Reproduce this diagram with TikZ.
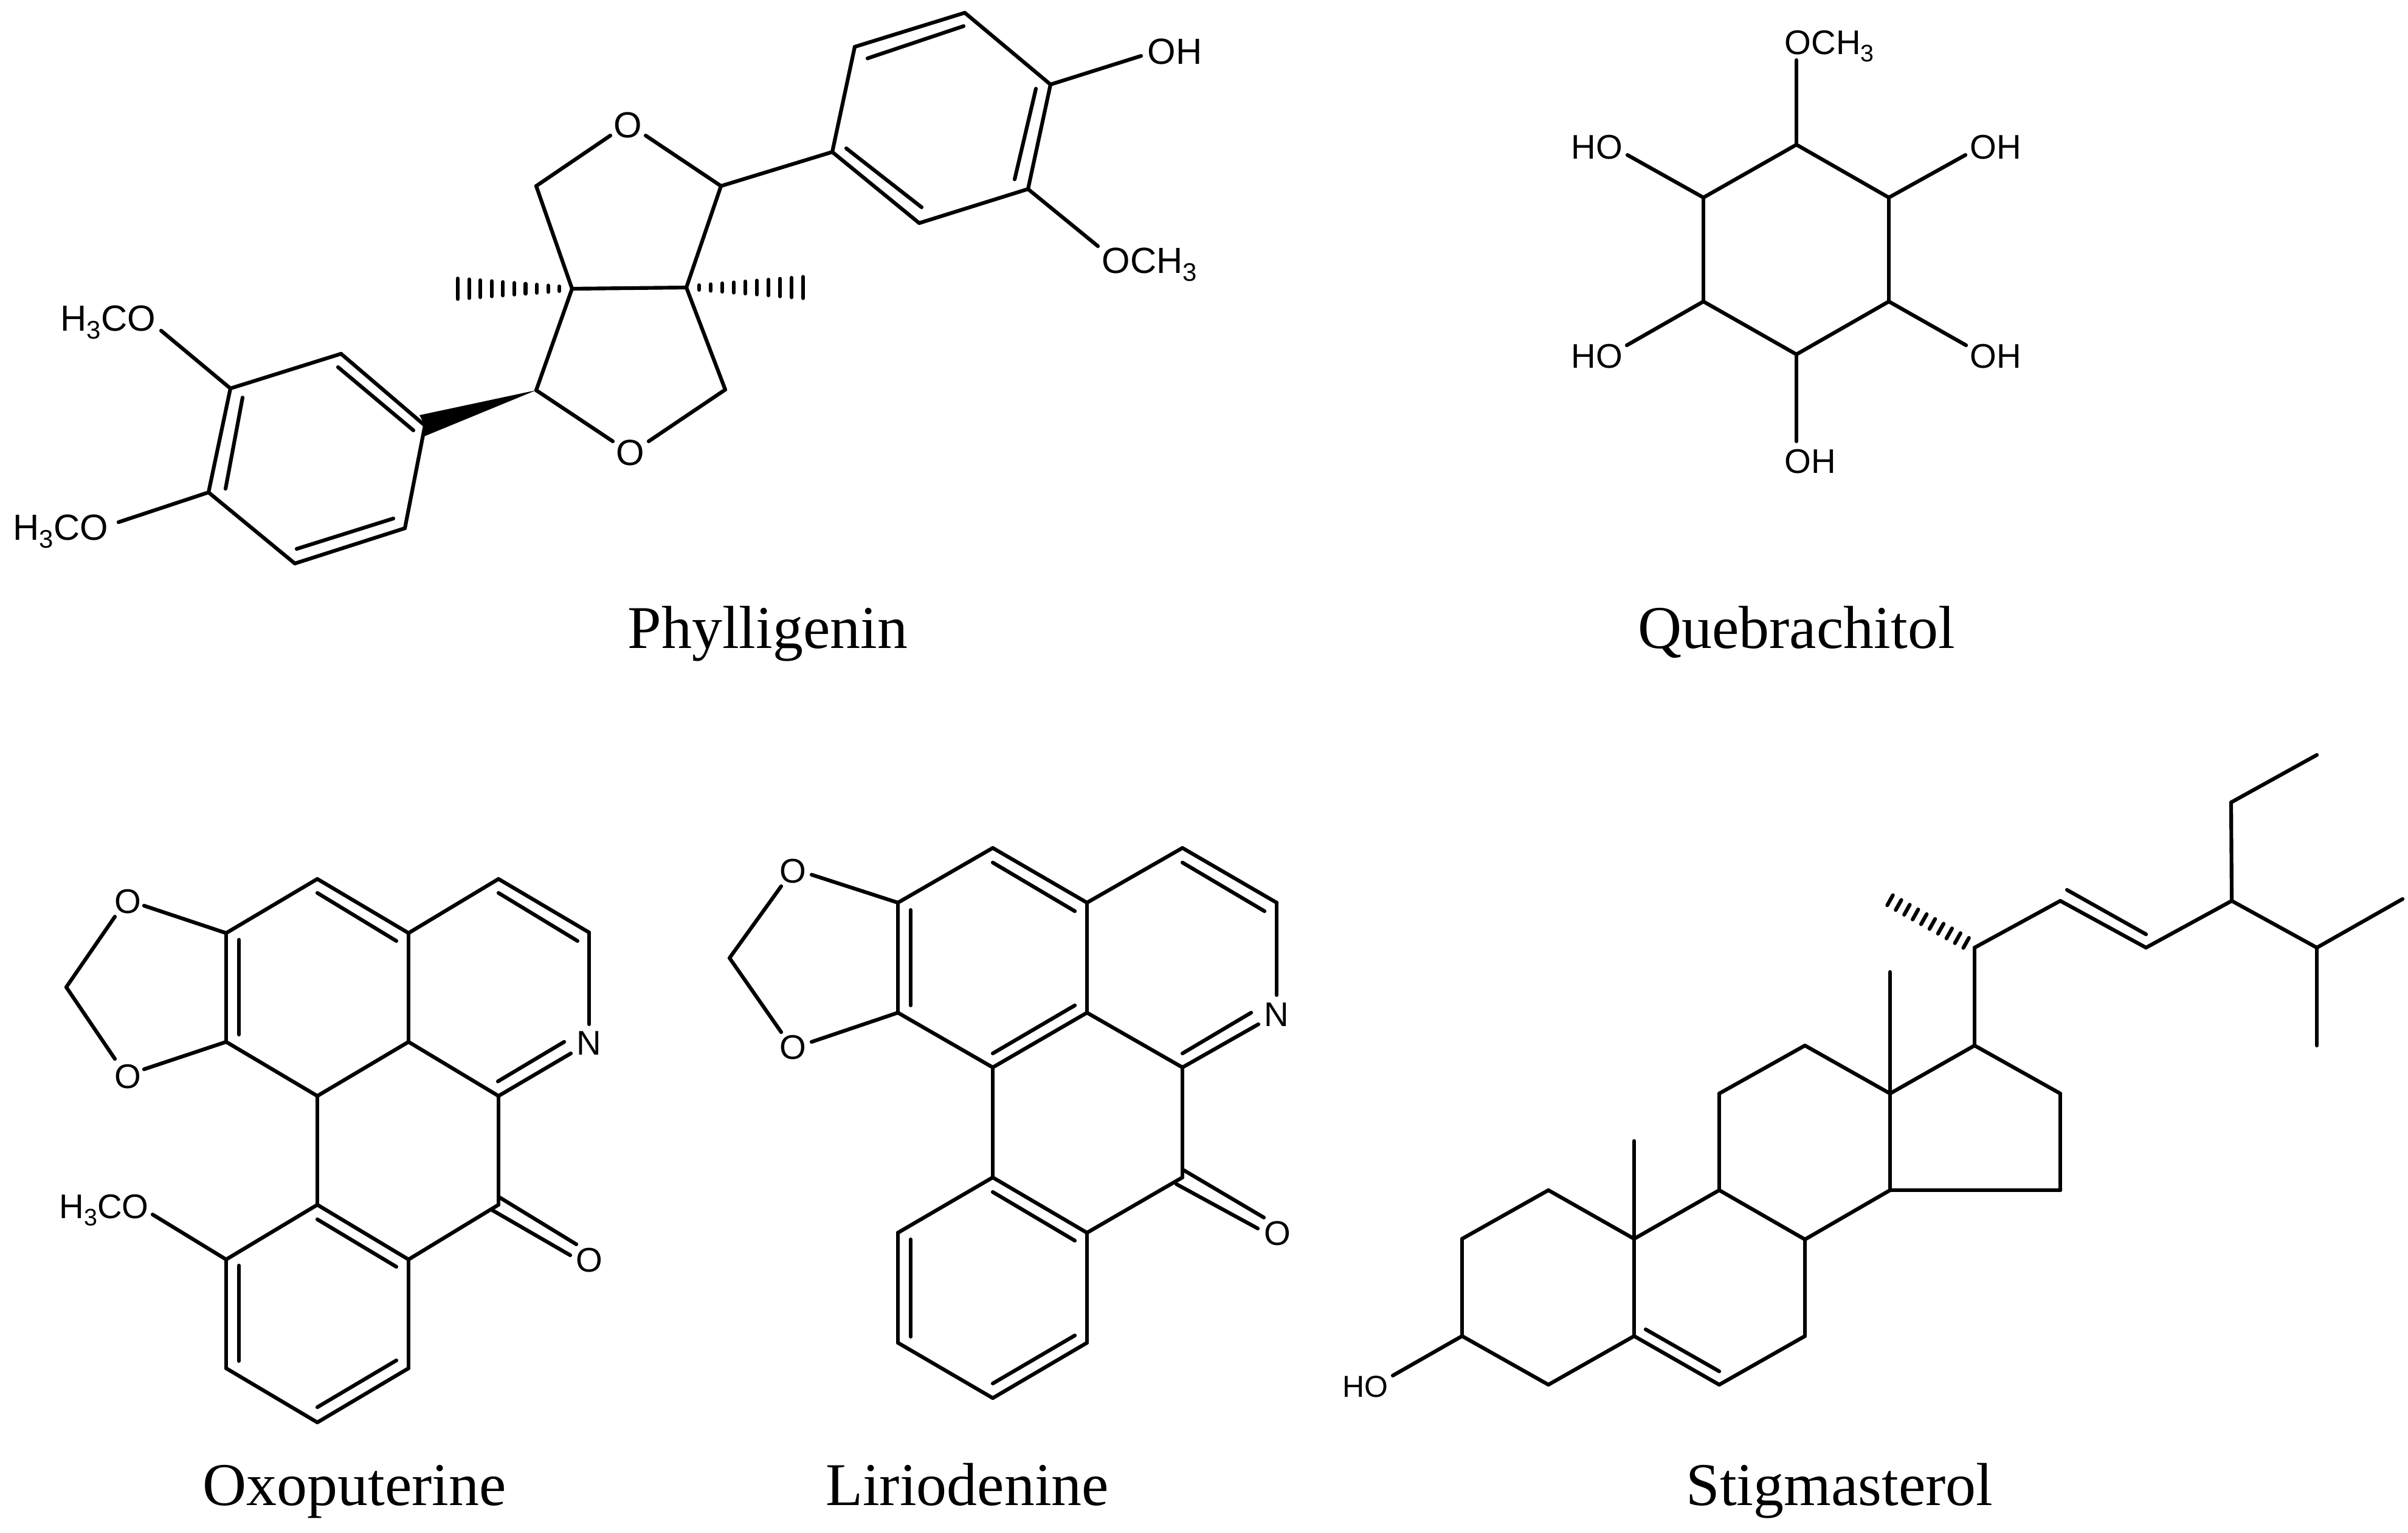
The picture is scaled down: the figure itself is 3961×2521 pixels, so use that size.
\documentclass[tikz,border=0pt]{standalone}
\usepackage{fontspec}
\setmainfont{Liberation Sans}
\newfontfamily\capfont{Liberation Serif}
\usetikzlibrary{calc}
\newcommand\three{\raisebox{-0.22em}{\scalebox{0.7}{3}}}
\newcommand\ptset[1]{\foreach \n/\x/\y in {#1} {\coordinate (\n) at (\x,\y);}}
\newcommand\bonds[1]{\foreach \u/\v in {#1} {\draw[bond] (\u) -- (\v);}}
% from, to, count, first position, first half length (pt), last half length (pt)
\newcommand\hashbond[6]{%
  \foreach \i in {1,...,#3} {%
    \pgfmathsetmacro\t{#4+(1-#4)*(\i-1)/(#3-1)}%
    \pgfmathsetmacro\w{#5+(#6-#5)*(\i-1)/(#3-1)}%
    \coordinate (hp) at ($(#1)!\t!(#2)$);
    \draw[hashline] ($(hp)!\w pt!90:(#1)$) -- ($(hp)!\w pt!-90:(#1)$);
  }}
\tikzset{
  bond/.style={line width=1.75pt,line cap=round,line join=miter,black},
  hashline/.style={line width=1.75pt,line cap=round,black},
  atom/.style={inner sep=0pt,font=\fontsize{16}{16}\selectfont},
  atomL/.style={inner sep=0pt,font=\fontsize{17}{17}\selectfont},
  atomS/.style={inner sep=0pt,font=\fontsize{14.2}{14.2}\selectfont},
  caption/.style={inner sep=0pt,anchor=base,font=\capfont\fontsize{28.4}{28.4}\selectfont},
}
\begin{document}
\begin{tikzpicture}[x=0.01cm,y=-0.01cm]
\path[fill=white,use as bounding box] (0,0) rectangle (3961,2521);

% ---------- Phylligenin ----------
\ptset{pa1/1587/21,pa2/1406/77,pa3/1369/250,pa4/1512/367,pa5/1691/311,pa6/1728/139,
 pOHe/1877/92,pOMe/1806/405,
 pO1a/1004/223,pO1b/1062/223,pc1/1186/306,pc2/882/306,pc3/941/475,pc4/1129/473,
 pc5/1193/641,pc6/882/642,pO2a/1067/726,pO2b/1008/726,
 pb1/699/700,pb2/561/582,pb3/379/639,pb4/343/810,pb5/485/927,pb6/666/869,
 pM1e/265/544,pM2e/195/859,pw1/690/683,pw2/695/719,
 ph1/753/475,ph2/1321/473,
 pi1/1427/96,pi2/1585/43,pi3/1392/244,pi4/1516/341,pi5/1704/146,pi6/1669/295,
 pi7/680/708,pi8/556/604,pi9/399/654,pi10/371/804,pi11/488/903,pi12/647/853}
\node[atomL,anchor=base west] (pOH) at (1887,105) {OH};
\node[atomL,anchor=base west] (pOCH) at (1812,449) {OCH\three};
\node[atomL,anchor=base west] (pHa) at (99,544) {H\three CO};
\node[atomL,anchor=base west] (pHb) at (21,888) {H\three CO};
\node[atomL] (pO1) at (1033,206) {O};
\node[atomL] (pO2) at (1037,745) {O};
\bonds{pa1/pa2,pa2/pa3,pa3/pa4,pa4/pa5,pa5/pa6,pa6/pa1,pa6/pOHe,pa5/pOMe,pa3/pc1,
 pc1/pO1b,pc2/pO1a,pc1/pc4,pc2/pc3,pc3/pc4,pc3/pc6,pc4/pc5,pc5/pO2a,pc6/pO2b,
 pb1/pb2,pb2/pb3,pb3/pb4,pb4/pb5,pb5/pb6,pb6/pb1,pb3/pM1e,pb4/pM2e,
 pi1/pi2,pi3/pi4,pi5/pi6,pi7/pi8,pi9/pi10,pi11/pi12}
\fill[black] (pc6) -- (pw1) -- (pb1) -- (pw2) -- cycle;
\hashbond{pc3}{ph1}{10}{0.11}{1.1}{4.8}
\hashbond{pc4}{ph2}{10}{0.11}{1.1}{5.0}
\node[caption] (capP) at (1263,1066) {Phylligenin};

% ---------- Quebrachitol ----------
\ptset{q1/2955/238,q2/3107/325,q3/3107/496,q4/2955/583,q5/2802/496,q6/2802/325,
 q1e/2955/99,q2e/3233/255,q3e/3234/568,q4e/2955/726,q5e/2676/568,q6e/2677/255}
\node[atom,anchor=base west] (qOCH) at (2935,89) {OCH\three};
\node[atom,anchor=base west] (qOHa) at (3240,261) {OH};
\node[atom,anchor=base west] (qOHb) at (3240,605) {OH};
\node[atom,anchor=base east] (qHOa) at (2670,261) {HO};
\node[atom,anchor=base east] (qHOb) at (2670,605) {HO};
\node[atom,anchor=base west] (qOHc) at (2935,778) {OH};
\bonds{q1/q2,q2/q3,q3/q4,q4/q5,q5/q6,q6/q1,q1/q1e,q2/q2e,q3/q3e,q4/q4e,q5/q5e,q6/q6e}
\node[caption] (capQ) at (2955,1066) {Quebrachitol};

% ---------- Oxoputerine ----------
\ptset{xc1/522/1446,xc2/672/1535,xc3/820/1446,xc4/969/1534,xNa/969/1685,
 xc5/820/1803,xc6/672/1714,xc7/522/1803,xc8/372/1714,xc9/372/1535,
 xO1a/237/1490,xO1b/189/1508,xO2a/237/1759,xO2b/189/1742,xm/109/1624,
 xc10/522/1982,xc11/672/2072,xc12/820/1982,xc13/672/2251,xc14/522/2340,xc15/372/2251,xc16/372/2072,
 xMe/251/1998,
 xN1/939/1733,xN2/819/1779,xN3/928/1714,
 xi1/522/1469,xi2/652/1548,xi3/820/1469,xi4/950/1548,xi5/393/1546,xi6/393/1702,
 xi7/522/2006,xi8/652/2084,xi9/393/2082,xi10/393/2239,xi11/652/2238,xi12/522/2315,
 xd1/822/1970,xd2/948/2047,xd3/810/1991,xd4/938/2065}
\node[atom] (xO1) at (210,1483) {O};
\node[atom] (xO2) at (210,1771) {O};
\node[atom] (xN) at (969,1716) {N};
\node[atom] (xO3) at (969,2073) {O};
\node[atom,anchor=base west] (xH) at (97,2004) {H\three CO};
\bonds{xc9/xc1,xc1/xc2,xc2/xc3,xc3/xc4,xc4/xNa,xc5/xN1,xN2/xN3,xc5/xc6,xc6/xc7,xc7/xc8,xc8/xc9,xc2/xc6,
 xc9/xO1a,xO1b/xm,xm/xO2b,xO2a/xc8,xc7/xc10,xc5/xc12,xc10/xc11,xc11/xc12,xc11/xc13,xc13/xc14,xc14/xc15,xc15/xc16,xc16/xc10,xc16/xMe,
 xi1/xi2,xi3/xi4,xi5/xi6,xi7/xi8,xi9/xi10,xi11/xi12,xd1/xd2,xd3/xd4}
\node[caption] (capX) at (583,2476) {Oxoputerine};

% ---------- Liriodenine ----------
\ptset{ld1/1633/1395,ld2/1788/1485,ld3/1945/1395,ld4/2100/1485,lNa/2100/1637,
 ld5/1945/1756,ld6/1788/1666,ld7/1633/1756,ld8/1477/1666,ld9/1477/1485,
 lO1a/1335/1439,lO1b/1285/1458,lO2a/1335/1714,lO2b/1285/1698,lm/1200/1576,
 ld10/1633/1937,ld11/1788/2028,ld12/1945/1937,ld13/1788/2209,ld14/1633/2300,ld15/1477/2209,ld16/1477/2028,
 lN1/2070/1685,lN2/1945/1733,lN3/2058/1666,
 li1/1633/1419,li2/1768/1499,li3/1945/1419,li4/2080/1499,li5/1498/1497,li6/1498/1654,
 li7/1633/1733,li8/1768/1654,li9/1633/1961,li10/1768/2041,li11/1498/2039,li12/1498/2199,
 li13/1768/2197,li14/1633/2276,
 lk1/1947/1925,lk2/2079/2003,lk3/1935/1948,lk4/2069/2021}
\node[atom] (lO1) at (1304,1433) {O};
\node[atom] (lO2) at (1304,1723) {O};
\node[atom] (lN) at (2100,1669) {N};
\node[atom] (lO3) at (2101,2029) {O};
\bonds{ld9/ld1,ld1/ld2,ld2/ld3,ld3/ld4,ld4/lNa,ld5/lN1,lN2/lN3,ld5/ld6,ld6/ld7,ld7/ld8,ld8/ld9,ld2/ld6,
 ld9/lO1a,lO1b/lm,lm/lO2b,lO2a/ld8,ld7/ld10,ld5/ld12,ld10/ld11,ld11/ld12,ld11/ld13,ld13/ld14,ld14/ld15,ld15/ld16,ld16/ld10,
 li1/li2,li3/li4,li5/li6,li7/li8,li9/li10,li11/li12,li13/li14,lk1/lk2,lk3/lk4}
\node[caption] (capL) at (1591,2476) {Liriodenine};

% ---------- Stigmasterol ----------
\ptset{s1/2405/2198,sHe/2291/2263,s2/2405/2038,s3/2547/1958,s4/2688/2038,s5/2688/2198,s6/2547/2278,
 m1/2688/1877,s7/2828/2278,s8/2969/2198,s9/2969/2039,s10/2828/1958,
 s11/2828/1799,s12/2969/1720,s13/3109/1799,s14/3109/1958,m2/3109/1599,
 s15/3248/1720,s16/3389/1799,s17/3389/1958,s18/3248/1559,sh/3109/1481,
 s19/3389/1482,s20/3530/1559,s21/3671/1482,s22/3670/1320,s23/3811/1242,
 s24/3811/1559,s25/3952/1479,s26/3811/1720,
 si1/3400/1464,si2/3530/1537,si3/2707/2187,si4/2828/2256}
\node[atomS,anchor=base west] (sHO) at (2208,2298) {HO};
\bonds{s1/sHe,s1/s2,s2/s3,s3/s4,s4/s5,s5/s6,s6/s1,s4/m1,s5/s7,s7/s8,s8/s9,s9/s10,s10/s4,
 s10/s11,s11/s12,s12/s13,s13/s14,s14/s9,s13/m2,s13/s15,s15/s16,s16/s17,s17/s14,s15/s18,
 s18/s19,s19/s20,s20/s21,s21/s22,s22/s23,s21/s24,s24/s25,s24/s26,si1/si2,si3/si4}
\hashbond{s18}{sh}{10}{0.1}{2.7}{2.7}
\node[caption] (capS) at (3026,2476) {Stigmasterol};
\end{tikzpicture}
\end{document}
